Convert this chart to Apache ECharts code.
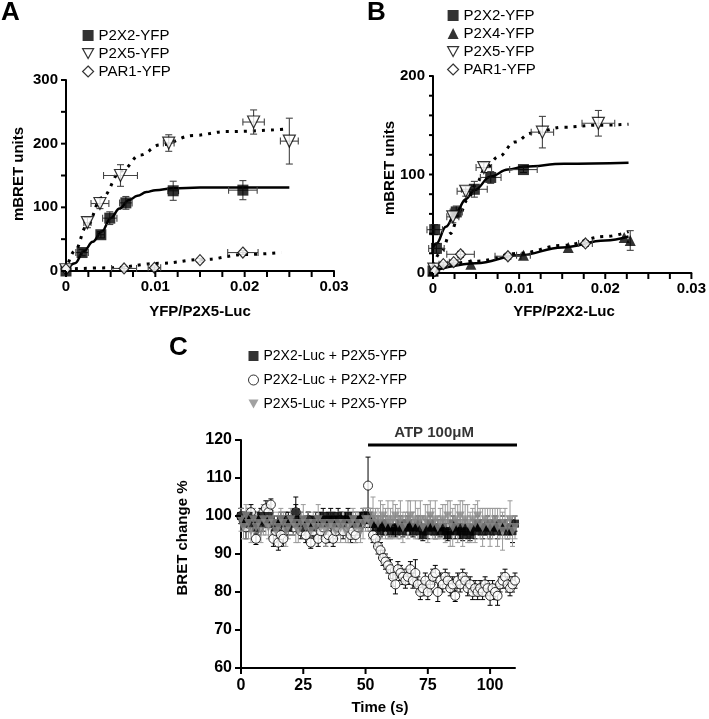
<!DOCTYPE html>
<html><head><meta charset="utf-8">
<script src="https://cdn.jsdelivr.net/npm/echarts@6/dist/echarts.min.js"></script>
<style>html,body{margin:0;padding:0;background:#fff}#c{width:709px;height:719px}</style>
</head><body><div id="c"></div>
<script>
// ---------- Panel A (x: YFP/P2X5-Luc, y: mBRET units) ----------
const A_P2X2_X = [0, 0.0018, 0.0039, 0.0049, 0.0067, 0.0120, 0.0198];
const A_P2X2_Y = [0, 29, 57, 83, 107, 126, 127];
const A_P2X2_XERR = [0, 0.0007, 0.0004, 0.0008, 0.0007, 0.0006, 0.0016];
const A_P2X2_YERR = [0, 5, 5, 10, 10, 15, 15];
const A_P2X5_X = [0, 0.0024, 0.0038, 0.0061, 0.0115, 0.0210, 0.0250];
const A_P2X5_Y = [2, 76, 106, 150, 201, 234, 204];
const A_P2X5_XERR = [0, 0.0004, 0.0010, 0.0019, 0.0006, 0.0012, 0.0010];
const A_P2X5_YERR = [0, 8, 8, 17, 13, 19, 36];
const A_PAR1_X = [0, 0.0065, 0.0099, 0.0150, 0.0198];
const A_PAR1_Y = [3, 4, 5, 17, 29];
const A_PAR1_XERR = [0, 0.0014, 0.0007, 0, 0.0017];
const A_PAR1_YERR = [0, 3, 3, 3, 3];
// fitted curves
const A_FIT_P2X2_X = [0, 0.001, 0.002, 0.003, 0.004, 0.005, 0.006, 0.007, 0.008, 0.009, 0.010, 0.012, 0.015, 0.020, 0.025];
const A_FIT_P2X2_Y = [0, 12, 31, 46, 62, 83, 98, 111, 118, 124, 127, 130, 131, 131, 131];
const A_FIT_P2X5_X = [0, 0.001, 0.0023, 0.004, 0.0062, 0.0083, 0.0105, 0.0143, 0.018, 0.0248];
const A_FIT_P2X5_Y = [0, 32, 70, 115, 157, 182, 198, 213, 219, 223];
const A_FIT_PAR1_X = [0, 0.005, 0.0105, 0.0153, 0.0202, 0.0241];
const A_FIT_PAR1_Y = [3, 5, 12, 18, 26, 29];

// ---------- Panel B (x: YFP/P2X2-Luc, y: mBRET units) ----------
const B_P2X2_X = [0, 0.0002, 0.0004, 0.0027, 0.0048, 0.0067, 0.0105];
const B_P2X2_Y = [2, 44, 25, 62, 85, 97, 105];
const B_P2X2_XERR = [0, 0.0009, 0.0009, 0.0007, 0.0015, 0.0012, 0.0016];
const B_P2X2_YERR = [0, 5, 5, 6, 8, 6, 3];
const B_P2X4_X = [0, 0.0044, 0.0105, 0.0157, 0.0222, 0.0229];
const B_P2X4_Y = [2, 9, 18, 26, 36, 33];
const B_P2X4_XERR = [0, 0, 0.0008, 0, 0, 0];
const B_P2X4_YERR = [0, 0, 0, 0, 0, 10];
const B_P2X5_X = [0.0001, 0.0023, 0.0038, 0.0059, 0.0127, 0.0192];
const B_P2X5_Y = [4, 57, 83, 107, 143, 152];
const B_P2X5_XERR = [0, 0.0007, 0.0010, 0.0009, 0.0013, 0.0019];
const B_P2X5_YERR = [0, 6, 5, 5, 16, 13];
const B_PAR1_X = [0.0002, 0.0012, 0.0024, 0.0032, 0.0087, 0.0177];
const B_PAR1_Y = [2, 9, 11, 19, 17, 30];
const B_PAR1_XERR = [0, 0.0005, 0.0005, 0.0016, 0.0015, 0.0008];
const B_PAR1_YERR = [0, 2, 2, 3, 3, 3];
const B_FIT_P2X2_X = [0, 0.0004, 0.0015, 0.0027, 0.0038, 0.0048, 0.0067, 0.0087, 0.0106, 0.0152, 0.0227];
const B_FIT_P2X2_Y = [26, 30, 47, 62, 75, 84, 98, 105, 108, 111, 112];
const B_FIT_P2X5_X = [0, 0.001, 0.002, 0.003, 0.004, 0.005, 0.006, 0.0076, 0.0095, 0.0114, 0.0152, 0.019, 0.0227];
const B_FIT_P2X5_Y = [8, 22, 40, 58, 74, 90, 105, 118, 133, 142, 148, 150, 151];
const B_FIT_P2X4_X = [0, 0.005, 0.010, 0.015, 0.020, 0.0227];
const B_FIT_P2X4_Y = [2, 10, 18, 26, 33, 37];
const B_FIT_PAR1_X = [0, 0.005, 0.010, 0.015, 0.020, 0.0227];
const B_FIT_PAR1_Y = [4, 12, 20, 28, 37, 42];

// ---------- Panel C (x: Time (s), y: BRET change %) ----------
const C_TIME = [0,1,2,3,4,5,6,7,8,9,10,11,12,13,14,15,16,17,18,19,20,21,22,23,24,25,26,27,28,29,30,
31,32,33,34,35,36,37,38,39,40,41,42,43,44,45,46,47,48,49,50,51,52,53,54,55,56,57,58,59,60,
61,62,63,64,65,66,67,68,69,70,71,72,73,74,75,76,77,78,79,80,81,82,83,84,85,86,87,88,89,90,
91,92,93,94,95,96,97,98,99,100,101,102,103,104,105,106,107,108,109,110];
const C_ZERO = [0,0,0,0,0,0,0,0,0,0,0,0,0,0,0,0,0,0,0,0,0,0,0,0,0,0,0,0,0,0,0,
0,0,0,0,0,0,0,0,0,0,0,0,0,0,0,0,0,0,0,0,0,0,0,0,0,0,0,0,0,0,
0,0,0,0,0,0,0,0,0,0,0,0,0,0,0,0,0,0,0,0,0,0,0,0,0,0,0,0,0,0,
0,0,0,0,0,0,0,0,0,0,0,0,0,0,0,0,0,0,0,0];
const C_SQ = [100,99,98,100,99,98,97,99,100,98,99,
100,99,98,97,98,99,98,99,97,98,
99,101,98,99,97,98,99,98,97,99,
98,99,100,98,99,100,99,98,100,99,
98,99,100,99,98,99,98,99,100,99,
100,99,98,97,98,96,97,98,97,96,
97,96,97,98,96,97,98,97,96,97,
98,96,95,97,96,98,97,96,97,96,
97,96,95,96,98,96,97,96,95,97,
96,95,97,96,98,97,96,97,98,96,
97,98,96,97,98,97,96,97,96,98];
const C_SQ_ERR = [2,2,2,2,2,2,2,2,2,2,2,
2,2,2,2,2,2,2,2,2,2,
2,4,2,2,2,2,2,2,2,2,
2,2,2,2,2,2,2,2,2,2,
2,2,2,2,2,2,2,2,2,2,
2,2,2,2,2,1.5,2,2,2,1.5,
2,1.5,2,2,1.5,2,2,2,1.5,2,
2,2,1.5,2,2,2,2,2,2,1.5,
2,2,1.5,2,2,2,2,2,1.5,2,
2,1.5,2,2,2,2,2,2,2,2,
2,2,2,2,2,2,2,2,3,2];
const C_CIRC = [100,99,97,98,101,99,94,97,99,101,102,
101,103,94,96,93,95,94,97,99,98,
97,101,98,96,97,95,99,93,96,98,
94,96,97,94,95,98,94,96,97,99,
96,98,97,95,96,95,97,98,99,100,
108,99,95,94,92,91,89,88,87,86,
84,82,86,85,84,83,84,86,83,85,
82,80,81,83,80,82,84,85,80,83,
82,84,83,81,82,79,83,82,84,83,
81,82,80,81,80,81,80,82,81,79,
81,80,79,82,83,84,82,81,82,83];
const C_CIRC_ERR = [2,2,3,2,2,2,1.5,2,2,2,2,
2,1.5,2,2,2,2,2,2,2,2,
2,2,2,2,2,2,2,1.5,2,2,
2,2,2,2,2,2,2,2,2,2,
2,2,2,2,2,2,2,2,2,2,
7.5,3,2,2,2,2,2,2,2,2.5,
2.5,2.5,2,2,2,2,2,2,2,3.5,
2,2,2,2,2,2,2,2,2.5,2,
2,2,2,2,2,1.5,2,2,2,2,
2,2,2,2,2,2,2,2,2,2.5,
2,2,2.5,2,2,2,2,2,2,2];
const C_TRI = [99,97,100,98,96,99,97,98,96,99,98,
97,99,98,96,97,99,98,96,97,99,
98,97,96,98,99,97,98,96,98,97,
99,97,98,96,97,98,97,96,98,97,
98,96,97,98,99,97,98,96,98,99,
99,98,100,99,98,99,100,98,99,98,
99,100,98,99,97,98,99,100,98,99,
98,99,97,99,98,100,98,99,97,98,
99,98,100,98,97,99,98,100,98,99,
98,97,99,98,100,98,97,99,98,97,
98,99,97,98,96,98,97,99,96,97];
const C_TRI_ERR = [3,3,3,4,3,3,4,3,3,4,3,
3,4,3,3,4,3,3,4,3,3,
3,4,3,3,4,3,3,4,3,3,
4,3,3,4,3,3,4,3,3,4,
3,3,4,3,3,4,3,3,4,3,
3,4,5,3,4,5,3,4,5,4,
5,3,4,5,4,3,5,4,3,5,
4,5,3,4,5,4,4,5,3,4,
4,5,4,6,5,4,5,4,6,4,
5,4,3,5,4,4,5,3,4,5,
4,3,5,4,5,4,3,5,4,3];
// ATP application bar (time span, drawn at y level) and its label position
const ATP_X = [51, 110.8];
const ATP_Y = [118.7, 118.7];
const ATP_LABEL_AT = [77.5, 118.7];

// tick positions and tick labels
const AB_X_TICKS = [0, 0.0025, 0.005, 0.0075, 0.01, 0.0125, 0.015, 0.0175, 0.02, 0.0225, 0.025, 0.0275, 0.03];
const AB_X_LABELS = ['0', '0.01', '0.02', '0.03'];
const A_Y_TICKS = [0, 50, 100, 150, 200, 250, 300];
const A_Y_LABELS = [0, 100, 200, 300];
const B_Y_TICKS = [0, 20, 40, 60, 80, 100, 120, 140, 160, 180, 200];
const B_Y_LABELS = [0, 100, 200];
const C_X_TICKS = [0, 25, 50, 75, 100];
const C_X_LABELS = [0, 25, 50, 75, 100];
const C_Y_TICKS = [60, 70, 80, 90, 100, 110, 120];
const C_Y_LABELS = [60, 70, 80, 90, 100, 110, 120];
const AXIS_MIN_X = [0, 0, 0];
const AXIS_MIN_Y = [0, 0, 60];

// ---------- helpers ----------
const FONT = 'Liberation Sans, Arial, Helvetica, sans-serif';
const DOWN_TRI = 'path://M0,0 L10,0 L5,9 Z';
const pairs = (xs, ys) => xs.map((x, i) => [x, ys[i]]);
const errs = (xs, ys, xe, ye) => xs.map((x, i) => [x, ys[i], xe[i], ye[i]]);

function errSeries(idx, data, color, cap, lw) {
  return {
    type: 'custom', xAxisIndex: idx, yAxisIndex: idx, silent: true, z: 2, clip: false,
    encode: { x: 0, y: 1 },
    data: data,
    renderItem: function (params, api) {
      const x = api.value(0), y = api.value(1), ex = api.value(2), ey = api.value(3);
      const st = { stroke: color, lineWidth: lw };
      const ch = [];
      if (ey > 0) {
        const p1 = api.coord([x, y - ey]), p2 = api.coord([x, y + ey]);
        ch.push({ type: 'line', shape: { x1: p1[0], y1: p1[1], x2: p2[0], y2: p2[1] }, style: st });
        ch.push({ type: 'line', shape: { x1: p1[0] - cap, y1: p1[1], x2: p1[0] + cap, y2: p1[1] }, style: st });
        ch.push({ type: 'line', shape: { x1: p2[0] - cap, y1: p2[1], x2: p2[0] + cap, y2: p2[1] }, style: st });
      }
      if (ex > 0) {
        const p1 = api.coord([x - ex, y]), p2 = api.coord([x + ex, y]);
        ch.push({ type: 'line', shape: { x1: p1[0], y1: p1[1], x2: p2[0], y2: p2[1] }, style: st });
        ch.push({ type: 'line', shape: { x1: p1[0], y1: p1[1] - cap, x2: p1[0], y2: p1[1] + cap }, style: st });
        ch.push({ type: 'line', shape: { x1: p2[0], y1: p2[1] - cap, x2: p2[0], y2: p2[1] + cap }, style: st });
      }
      return { type: 'group', children: ch };
    }
  };
}
function fitSeries(idx, xs, ys, dotted) {
  return {
    type: 'line', xAxisIndex: idx, yAxisIndex: idx, data: pairs(xs, ys), silent: true,
    symbol: 'none', smooth: 0.4, smoothMonotone: 'x', z: 1,
    lineStyle: { color: '#000', width: dotted ? 3 : 2.5, type: dotted ? [3, 6] : 'solid' }
  };
}
function markerSeries(idx, name, data, kind, size) {
  const s = { type: 'scatter', name: name, xAxisIndex: idx, yAxisIndex: idx, data: data, z: 3, silent: true };
  if (kind === 'square') { s.symbol = 'rect'; s.symbolSize = size; s.itemStyle = { color: '#000' }; }
  if (kind === 'opentri') { s.symbol = 'triangle'; s.symbolRotate = 180; s.symbolSize = size; s.itemStyle = { color: '#fff', borderColor: '#000', borderWidth: 1.2 }; }
  if (kind === 'tri') { s.symbol = 'triangle'; s.symbolSize = size; s.itemStyle = { color: '#000' }; }
  if (kind === 'diamond') { s.symbol = 'diamond'; s.symbolSize = [size, size + 1]; s.itemStyle = { color: '#fff', borderColor: '#000', borderWidth: 1.2 }; }
  if (kind === 'circle') { s.symbol = 'circle'; s.symbolSize = size; s.itemStyle = { color: '#fff', borderColor: '#000', borderWidth: 1 }; }
  if (kind === 'graytri') { s.symbol = 'triangle'; s.symbolRotate = 180; s.symbolSize = size; s.itemStyle = { color: '#8a8a8a' }; }
  return s;
}
function lineStyleAxis() { return { show: true, onZero: false, lineStyle: { color: '#000', width: 2 } }; }
function labelStyle(size, margin) { return { fontSize: size, fontWeight: 'bold', color: '#000', fontFamily: FONT, margin: margin }; }
function abXFormatter(v) {
  const k = Math.round(v / 0.0025);
  if (k % 4 !== 0) return '';
  return AB_X_LABELS[k / 4] || '';
}
function yFormatter(list) {
  return function (v) { return list.some(l => Math.abs(l - v) < 1e-9) ? String(v) : ''; };
}
function axisTitle(text, x, y, vertical) {
  return { type: 'text', x: x, y: y, rotation: vertical ? Math.PI / 2 : 0, silent: true,
    style: { text: text, font: 'bold 15px ' + FONT, fill: '#000', align: 'center', verticalAlign: 'middle' } };
}
const legendText = { fontSize: 15, color: '#000', fontFamily: FONT };
const openStyle = { color: '#fff', borderColor: '#000', borderWidth: 1.2 };
const noTick = { show: false };

const baseGraphic = [
  { type: 'text', left: 1, top: 0, style: { text: 'A', font: 'bold 26px ' + FONT, fill: '#000' } },
  { type: 'text', left: 367, top: 0, style: { text: 'B', font: 'bold 26px ' + FONT, fill: '#000' } },
  { type: 'text', left: 169, top: 335, style: { text: 'C', font: 'bold 26px ' + FONT, fill: '#000' } },
  axisTitle('mBRET units', 19, 174, true),
  axisTitle('YFP/P2X5-Luc', 200, 312, false),
  axisTitle('mBRET units', 390, 168, true),
  axisTitle('YFP/P2X2-Luc', 564, 312, false),
  axisTitle('BRET change %', 183, 538, true),
  axisTitle('Time (s)', 380, 708, false)
];

const option = {
  animation: false,
  backgroundColor: '#fff',
  grid: [
    { left: 66, top: 80, width: 268, height: 191 },
    { left: 433, top: 76, width: 264, height: 197 },
    { left: 241, top: 440, width: 274, height: 228 }
  ],
  xAxis: [
    { gridIndex: 0, type: 'value', min: 0, max: 0.03, interval: 0.0025, splitLine: { show: false },
      axisLine: lineStyleAxis(), axisTick: noTick,
      axisLabel: Object.assign({ formatter: abXFormatter }, labelStyle(15, 8)) },
    { gridIndex: 1, type: 'value', min: 0, max: 0.03, interval: 0.0025, splitLine: { show: false },
      axisLine: lineStyleAxis(), axisTick: noTick,
      axisLabel: Object.assign({ formatter: abXFormatter }, labelStyle(15, 8)) },
    { gridIndex: 2, type: 'value', min: 0, max: 110, interval: 25, splitLine: { show: false },
      axisLine: lineStyleAxis(), axisTick: noTick,
      axisLabel: Object.assign({ customValues: C_X_LABELS }, labelStyle(16, 10)) }
  ],
  yAxis: [
    { gridIndex: 0, type: 'value', min: 0, max: 300, interval: 50, splitLine: { show: false },
      axisLine: lineStyleAxis(), axisTick: noTick,
      axisLabel: Object.assign({ formatter: yFormatter(A_Y_LABELS) }, labelStyle(15, 8)) },
    { gridIndex: 1, type: 'value', min: 0, max: 200, interval: 20, splitLine: { show: false },
      axisLine: lineStyleAxis(), axisTick: noTick,
      axisLabel: Object.assign({ formatter: yFormatter(B_Y_LABELS) }, labelStyle(15, 8)) },
    { gridIndex: 2, type: 'value', min: 60, max: 120, interval: 10, splitLine: { show: false },
      axisLine: lineStyleAxis(), axisTick: noTick,
      axisLabel: Object.assign({ formatter: yFormatter(C_Y_LABELS) }, labelStyle(16, 9)) }
  ],
  legend: [
    { orient: 'vertical', left: 82, top: 28, padding: 0, itemWidth: 11, itemHeight: 11, itemGap: 3, selectedMode: false,
      textStyle: legendText,
      data: [
        { name: 'P2X2-YFP', icon: 'rect', itemStyle: { color: '#000' } },
        { name: 'P2X5-YFP', icon: DOWN_TRI, itemStyle: openStyle },
        { name: 'PAR1-YFP', icon: 'diamond', itemStyle: openStyle }
      ] },
    { orient: 'vertical', left: 447, top: 8, padding: 0, itemWidth: 11, itemHeight: 11, itemGap: 3, selectedMode: false,
      textStyle: legendText,
      data: [
        { name: 'P2X2-YFP', icon: 'rect', itemStyle: { color: '#000' } },
        { name: 'P2X4-YFP', icon: 'triangle', itemStyle: { color: '#000' } },
        { name: 'P2X5-YFP', icon: DOWN_TRI, itemStyle: openStyle },
        { name: 'PAR1-YFP', icon: 'diamond', itemStyle: openStyle }
      ] },
    { orient: 'vertical', left: 248, top: 349, padding: 0, itemWidth: 10, itemHeight: 10, itemGap: 10, selectedMode: false,
      textStyle: { fontSize: 14, color: '#000', fontFamily: FONT },
      data: [
        { name: 'P2X2-Luc + P2X5-YFP', icon: 'rect', itemStyle: { color: '#000' } },
        { name: 'P2X2-Luc + P2X2-YFP', icon: 'circle', itemStyle: { color: '#fff', borderColor: '#000', borderWidth: 1 } },
        { name: 'P2X5-Luc + P2X5-YFP', icon: DOWN_TRI, itemStyle: { color: '#8a8a8a' } }
      ] }
  ],
  graphic: baseGraphic,
  series: [
    // Panel A
    fitSeries(0, A_FIT_P2X2_X, A_FIT_P2X2_Y, false),
    fitSeries(0, A_FIT_P2X5_X, A_FIT_P2X5_Y, true),
    fitSeries(0, A_FIT_PAR1_X, A_FIT_PAR1_Y, true),
    errSeries(0, errs(A_P2X2_X, A_P2X2_Y, A_P2X2_XERR, A_P2X2_YERR), '#444', 3.5, 1.1),
    errSeries(0, errs(A_P2X5_X, A_P2X5_Y, A_P2X5_XERR, A_P2X5_YERR), '#444', 3.5, 1.1),
    errSeries(0, errs(A_PAR1_X, A_PAR1_Y, A_PAR1_XERR, A_PAR1_YERR), '#444', 3.5, 1.1),
    markerSeries(0, 'P2X2-YFP', pairs(A_P2X2_X, A_P2X2_Y), 'square', 11),
    markerSeries(0, 'P2X5-YFP', pairs(A_P2X5_X, A_P2X5_Y), 'opentri', 12),
    markerSeries(0, 'PAR1-YFP', pairs(A_PAR1_X, A_PAR1_Y), 'diamond', 10),
    // Panel B
    fitSeries(1, B_FIT_P2X2_X, B_FIT_P2X2_Y, false),
    fitSeries(1, B_FIT_P2X5_X, B_FIT_P2X5_Y, true),
    fitSeries(1, B_FIT_P2X4_X, B_FIT_P2X4_Y, false),
    fitSeries(1, B_FIT_PAR1_X, B_FIT_PAR1_Y, true),
    errSeries(1, errs(B_P2X2_X, B_P2X2_Y, B_P2X2_XERR, B_P2X2_YERR), '#444', 3.5, 1.1),
    errSeries(1, errs(B_P2X4_X, B_P2X4_Y, B_P2X4_XERR, B_P2X4_YERR), '#444', 3.5, 1.1),
    errSeries(1, errs(B_P2X5_X, B_P2X5_Y, B_P2X5_XERR, B_P2X5_YERR), '#444', 3.5, 1.1),
    errSeries(1, errs(B_PAR1_X, B_PAR1_Y, B_PAR1_XERR, B_PAR1_YERR), '#444', 3.5, 1.1),
    markerSeries(1, 'P2X2-YFP', pairs(B_P2X2_X, B_P2X2_Y), 'square', 11),
    markerSeries(1, 'P2X4-YFP', pairs(B_P2X4_X, B_P2X4_Y), 'tri', 11),
    markerSeries(1, 'P2X5-YFP', pairs(B_P2X5_X, B_P2X5_Y), 'opentri', 12),
    markerSeries(1, 'PAR1-YFP', pairs(B_PAR1_X, B_PAR1_Y), 'diamond', 10),
    // Panel C
    errSeries(2, errs(C_TIME, C_CIRC, C_ZERO, C_CIRC_ERR), '#000', 2.5, 1),
    markerSeries(2, 'P2X2-Luc + P2X2-YFP', pairs(C_TIME, C_CIRC), 'circle', 9),
    errSeries(2, errs(C_TIME, C_SQ, C_ZERO, C_SQ_ERR), '#000', 2.5, 1),
    markerSeries(2, 'P2X2-Luc + P2X5-YFP', pairs(C_TIME, C_SQ), 'square', 8),
    errSeries(2, errs(C_TIME, C_TRI, C_ZERO, C_TRI_ERR), '#9a9a9a', 2.5, 1),
    markerSeries(2, 'P2X5-Luc + P2X5-YFP', pairs(C_TIME, C_TRI), 'graytri', 9),
    { type: 'line', xAxisIndex: 2, yAxisIndex: 2, data: pairs(ATP_X, ATP_Y), silent: true, clip: false,
      symbol: 'none', lineStyle: { color: '#000', width: 3 } },
    { type: 'scatter', xAxisIndex: 2, yAxisIndex: 2, data: [ATP_LABEL_AT], silent: true, symbolSize: 0,
      label: { show: true, position: 'top', distance: 5, formatter: 'ATP 100μM', fontSize: 15, fontWeight: 'bold', color: '#000', fontFamily: FONT } }
  ]
};
const chart = echarts.init(document.getElementById('c'), null, { renderer: 'canvas' });
chart.setOption(option);

// Axis tick marks: positioned through each grid's own axis scales, drawn as graphic lines.
const tickEls = [];
function addTicks(idx, ticks, dir, len) {
  ticks.forEach(function (t) {
    const v = dir === 'x' ? [t, AXIS_MIN_Y[idx]] : [AXIS_MIN_X[idx], t];
    const p = chart.convertToPixel({ xAxisIndex: idx, yAxisIndex: idx }, v);
    if (!p) return;
    const shape = dir === 'x'
      ? { x1: p[0], y1: p[1], x2: p[0], y2: p[1] + len }
      : { x1: p[0], y1: p[1], x2: p[0] - len, y2: p[1] };
    tickEls.push({ type: 'line', silent: true, z: 10, shape: shape, style: { stroke: '#000', lineWidth: 2 } });
  });
}
try {
  addTicks(0, AB_X_TICKS, 'x', 6);
  addTicks(0, A_Y_TICKS, 'y', 5);
  addTicks(1, AB_X_TICKS, 'x', 6);
  addTicks(1, B_Y_TICKS, 'y', 4);
  addTicks(2, C_X_TICKS, 'x', 6);
  addTicks(2, C_Y_TICKS, 'y', 6);
  chart.setOption({ graphic: baseGraphic.concat(tickEls) });
} catch (e) { /* keep chart without extra ticks */ }
</script></body></html>
